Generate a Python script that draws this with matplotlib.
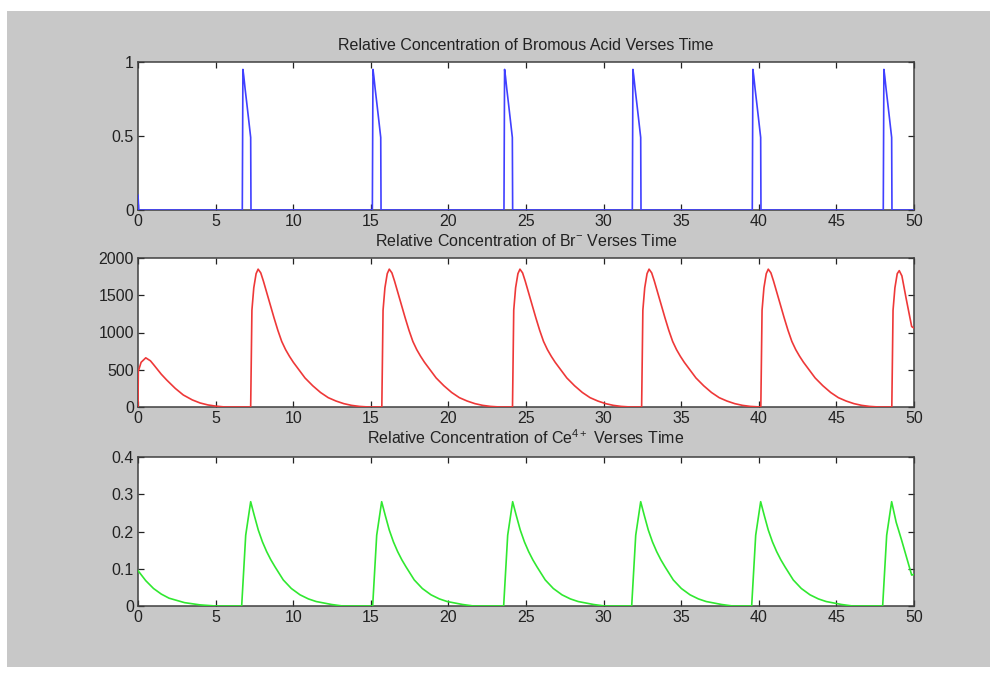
import numpy as np
import matplotlib.pyplot as plt
from matplotlib.patches import Rectangle

plt.rcParams['font.family'] = ['Liberation Sans', 'DejaVu Sans']
plt.rcParams['mathtext.fontset'] = 'custom'
plt.rcParams['mathtext.rm'] = 'Liberation Sans'
plt.rcParams['mathtext.it'] = 'Liberation Sans:italic'

# --- data ---
# Bromous acid: short spikes
hbro2_start_t = [0, 0.05]
hbro2_start = [0.1, 0]
hbro2_onsets = [6.72, 15.1, 23.58, 31.85, 39.58, 48.02]
hbro2_shape_dt = [0, 0.04, 0.1, 0.18, 0.28, 0.4, 0.54, 0.56]
hbro2_shape = [0, 0.95, 0.9, 0.82, 0.73, 0.62, 0.49, 0]
hbro2_end_t = [50]
hbro2_end = [0]

# Br-: first small hump, repeated pulse, cut-off last pulse
br_start_t = [0, 0.02, 0.2, 0.5, 0.8, 1.0, 1.5, 1.85, 2.4, 2.92, 3.5, 4.0, 4.5, 5.0, 5.6]
br_start = [0, 480, 600, 660, 620, 570, 440, 362, 250, 161, 95, 54, 28, 12, 0]
br_onsets = [7.26, 15.71, 24.13, 32.45, 40.13]
br_shape_dt = [0, 0.04, 0.08, 0.2, 0.35, 0.48, 0.65, 0.82, 1.0, 1.25, 1.5, 1.75,
               2.0, 2.25, 2.5, 2.75, 3.0, 3.5, 4.0, 4.5, 5.0, 5.5, 6.0, 6.5,
               7.0, 7.6]
br_shape = [0, 700, 1300, 1600, 1790, 1850, 1800, 1690, 1560, 1380, 1200, 1030,
            880, 770, 680, 600, 530, 390, 285, 195, 125, 80, 45, 22, 8, 0]
br_end_t = [48.57, 48.61, 48.65, 48.77, 48.92, 49.05, 49.22, 49.5, 49.85, 50.0]
br_end = [0, 700, 1300, 1600, 1790, 1830, 1760, 1450, 1080, 1060]

# Ce4+
ce_start_t = [0, 0.5, 1, 1.5, 2, 3, 4, 5]
ce_start = [0.095, 0.068, 0.047, 0.032, 0.021, 0.009, 0.003, 0]
ce_onsets = [6.68, 15.12, 23.56, 31.81, 39.54]
ce_shape_dt = [0, 0.26, 0.58, 0.8, 1.07, 1.34, 1.61, 1.88, 2.15, 2.68, 3.2,
               3.76, 4.3, 4.8, 5.8, 6.5]
ce_shape = [0, 0.19, 0.28, 0.245, 0.204, 0.172, 0.146, 0.124, 0.105, 0.070,
            0.047, 0.030, 0.019, 0.012, 0.004, 0]
ce_end_t = [47.98, 48.24, 48.56, 48.85, 49.2, 49.85, 50.0]
ce_end = [0, 0.19, 0.28, 0.225, 0.177, 0.083, 0.085]

x_ticks = [0, 5, 10, 15, 20, 25, 30, 35, 40, 45, 50]
y1_ticks = [0, 0.5, 1]
y1_labels = ['0', '0.5', '1']
y2_ticks = [0, 500, 1000, 1500, 2000]
y2_labels = ['0', '500', '1000', '1500', '2000']
y3_ticks = [0, 0.1, 0.2, 0.3, 0.4]
y3_labels = ['0', '0.1', '0.2', '0.3', '0.4']

titles = ['Relative Concentration of Bromous Acid Verses Time',
          'Relative Concentration of Br$^{\\mathrm{-}}$ Verses Time',
          'Relative Concentration of Ce$^{\\mathrm{4+}}$ Verses Time']


def build(t0, v0, onsets, dt, shape, t1, v1):
    t = list(t0)
    v = list(v0)
    for r in onsets:
        t += [r + d for d in dt]
        v += shape
    return np.array(t + t1), np.array(v + v1)


t1, hbro2 = build(hbro2_start_t, hbro2_start, hbro2_onsets, hbro2_shape_dt,
                  hbro2_shape, hbro2_end_t, hbro2_end)
t2, br = build(br_start_t, br_start, br_onsets, br_shape_dt, br_shape,
               br_end_t, br_end)
t3, ce = build(ce_start_t, ce_start, ce_onsets, ce_shape_dt, ce_shape,
               ce_end_t, ce_end)

fig = plt.figure(figsize=(9.97, 6.73), dpi=100)
fig.add_artist(Rectangle((7 / 997, 1 - 667 / 673), 983 / 997, 656 / 673,
                         transform=fig.transFigure, facecolor='#c8c8c8',
                         edgecolor='none', zorder=-10))

left, width = 138 / 997, 776 / 997
boxes = [(62, 210), (258, 407), (457, 606)]
series = [(t1, hbro2, '#4040ff', (0, 1), y1_ticks, y1_labels),
          (t2, br, '#ee3838', (0, 2000), y2_ticks, y2_labels),
          (t3, ce, '#30e830', (0, 0.4), y3_ticks, y3_labels)]

for (top, bot), (t, y, col, ylim, yt, yl), title in zip(boxes, series, titles):
    ax = fig.add_axes([left, 1 - bot / 673, width, (bot - top) / 673])
    ax.plot(t, y, color=col, lw=1.2, zorder=3)
    ax.set_xlim(0, 50)
    ax.set_ylim(*ylim)
    ax.set_xticks(x_ticks)
    ax.set_yticks(yt, yl)
    ax.tick_params(direction='in', top=True, right=True, length=4.5,
                   width=0.9, labelsize=11.5, colors='#222222', pad=3)
    for s in ax.spines.values():
        s.set_color('#404040')
        s.set_linewidth(1.1)
    ax.set_title(title, fontsize=11.5, pad=9, color='#222222')

fig.savefig('out.png', dpi=100)
